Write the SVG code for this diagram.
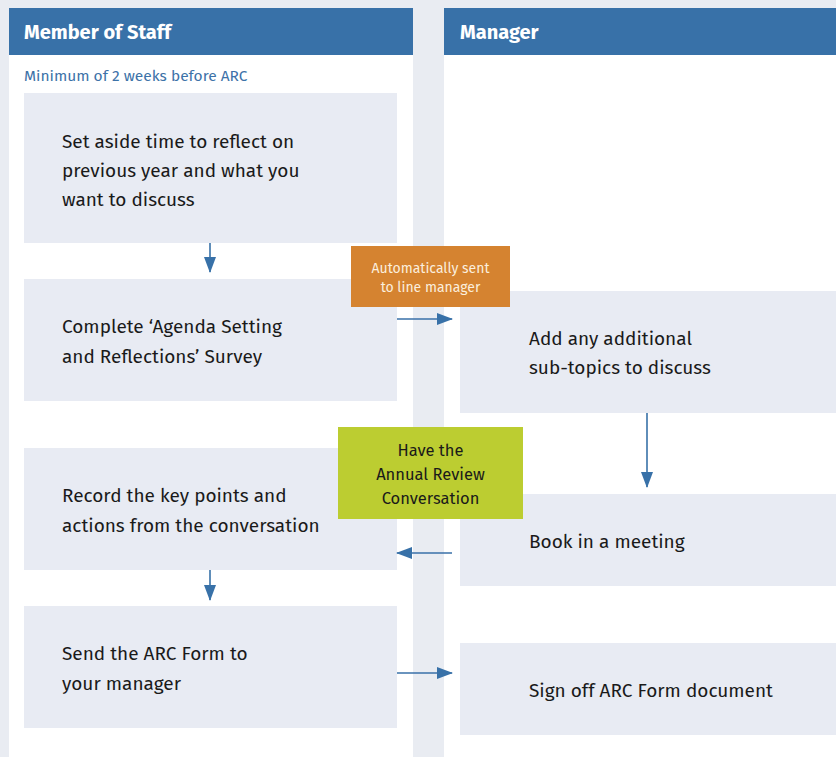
<svg xmlns="http://www.w3.org/2000/svg" width="836" height="757" viewBox="0 0 836 757">
<defs>
<style>
.lane{fill:#ffffff}
.hdr{fill:#3871a8}
.htxt{font-family:"Fira Sans","Lato","Liberation Sans",sans-serif;font-weight:bold;font-size:20px;fill:#ffffff}
.box{fill:#e8ebf3}
.t{font-family:"Fira Sans","Lato","Liberation Sans",sans-serif;font-size:19px;fill:#1a1a1a}
.note{font-family:"Fira Sans","Lato","Liberation Sans",sans-serif;font-size:15.5px;fill:#3d72a8}
.or{fill:#d58330}
.ot{font-family:"Fira Sans","Lato","Liberation Sans",sans-serif;font-size:14px;fill:#fbeedd;text-anchor:middle}
.gr{fill:#bccd31}
.gt{font-family:"Fira Sans","Lato","Liberation Sans",sans-serif;font-size:16.5px;fill:#1a1a1a;text-anchor:middle}
.c{stroke:#3871a8;stroke-width:1.6;fill:none;marker-end:url(#ah)}
</style>
<marker id="ah" viewBox="0 0 16 12" refX="15" refY="6" markerWidth="16" markerHeight="12" markerUnits="userSpaceOnUse" orient="auto">
<path d="M0,0 L16,6 L0,12 z" fill="#3871a8"/>
</marker>
</defs>
<rect width="836" height="757" fill="#e9ecf2"/>
<g id="lane-staff">
<rect class="lane" x="9" y="8" width="404" height="749"/>
<rect class="hdr" x="9" y="8" width="404" height="47"/>
<text class="htxt" x="24" y="39">Member of Staff</text>
<text class="note" x="24" y="81">Minimum of 2 weeks before ARC</text>
</g>
<g id="lane-manager">
<rect class="lane" x="444" y="8" width="392" height="749"/>
<rect class="hdr" x="444" y="8" width="392" height="47"/>
<text class="htxt" x="460" y="39">Manager</text>
</g>
<g id="n1">
<rect class="box" x="24" y="93" width="373" height="150"/>
<text class="t" x="62" y="148">Set aside time to reflect on</text>
<text class="t" x="62" y="177">previous year and what you</text>
<text class="t" x="62" y="206">want to discuss</text>
</g>
<g id="n2">
<rect class="box" x="24" y="279" width="373" height="122"/>
<text class="t" x="62" y="333">Complete ‘Agenda Setting</text>
<text class="t" x="62" y="363">and Reflections’ Survey</text>
</g>
<g id="n3">
<rect class="box" x="24" y="448" width="373" height="122"/>
<text class="t" x="62" y="502">Record the key points and</text>
<text class="t" x="62" y="532">actions from the conversation</text>
</g>
<g id="n4">
<rect class="box" x="24" y="606" width="373" height="122"/>
<text class="t" x="62" y="660">Send the ARC Form to</text>
<text class="t" x="62" y="690">your manager</text>
</g>
<g id="m1">
<rect class="box" x="460" y="291" width="376" height="122"/>
<text class="t" x="529" y="345">Add any additional</text>
<text class="t" x="529" y="374">sub-topics to discuss</text>
</g>
<g id="m2">
<rect class="box" x="460" y="494" width="376" height="92"/>
<text class="t" x="529" y="548">Book in a meeting</text>
</g>
<g id="m3">
<rect class="box" x="460" y="643" width="376" height="92"/>
<text class="t" x="529" y="697">Sign off ARC Form document</text>
</g>
<g id="connectors">
<line class="c" x1="210" y1="243" x2="210" y2="272"/>
<line class="c" x1="397" y1="319" x2="452" y2="319"/>
<line class="c" x1="647" y1="413" x2="647" y2="487"/>
<line class="c" x1="452" y1="553" x2="397" y2="553"/>
<line class="c" x1="210" y1="570" x2="210" y2="600"/>
<line class="c" x1="397" y1="673" x2="452" y2="673"/>
</g>
<g id="label-auto">
<rect class="or" x="351" y="246" width="159" height="61"/>
<text class="ot" x="430.5" y="273">Automatically sent</text>
<text class="ot" x="430.5" y="292">to line manager</text>
</g>
<g id="label-arc">
<rect class="gr" x="338" y="427" width="185" height="92"/>
<text class="gt" x="430.5" y="456">Have the</text>
<text class="gt" x="430.5" y="480">Annual Review</text>
<text class="gt" x="430.5" y="504">Conversation</text>
</g>
</svg>
